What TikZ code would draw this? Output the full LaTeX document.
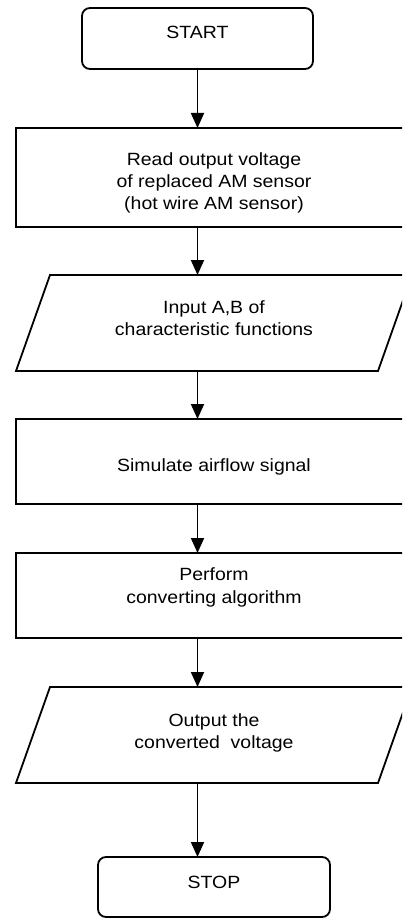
\documentclass[tikz,border=0pt]{standalone}
\usepackage{fontspec}
\setmainfont{Liberation Sans}[FakeStretch=1.1]
\usetikzlibrary{arrows.meta}

\begin{document}
\begin{tikzpicture}[x=1pt, y=-1pt, line width=1.8pt,
  every node/.style={inner sep=0pt, outer sep=0pt, align=center,
    font=\fontsize{17.7}{22.3}\selectfont},
  term/.style={draw, rounded corners=8pt, minimum height=60},
  proc/.style={draw, minimum width=396, minimum height=85},
  io/.style={minimum width=362, minimum height=96},
  arr/.style={-{Triangle[length=15pt, width=13pt]}}]
  \useasboundingbox (0,0) rectangle (402,920);
  \clip (0,0) rectangle (402,920);

  \node[term, minimum width=231, minimum height=61, text height=1pt, text depth=0pt] (start) at (197.5,38.5) {START};
  \node[proc, minimum height=99, text height=64.8pt, text depth=0pt] (read) at (214,177.5)
    {Read output voltage\\of replaced AM sensor\\(hot wire AM sensor)};
  \node[io, text height=25.2pt, text depth=0pt] (inp) at (214,323) {Input A,B of\\characteristic functions};
  \node[proc, text height=19pt, text depth=0pt] (sim) at (214,461.5) {Simulate airflow signal};
  \node[proc, text height=15pt, text depth=0pt] (conv) at (214,595.5) {Perform\\converting algorithm};
  \node[io, text height=26.6pt, text depth=0pt] (outp) at (214,735) {Output the\\converted\ \ voltage};
  \node[term, minimum width=232, text height=2pt, text depth=0pt] (stop) at (214,887) {STOP};

  % input/output boxes
  \foreach \n in {inp,outp}
    \draw ([xshift=-17pt]\n.south west) -- ([xshift=17pt]\n.north west)
      -- ([xshift=17pt]\n.north east) -- ([xshift=-17pt]\n.south east) -- cycle;

  \draw[arr] (start) -- (start |- read.north);
  \draw[arr] (read.south -| start) -- (inp.north -| start);
  \draw[arr] (inp.south -| start) -- (sim.north -| start);
  \draw[arr] (sim.south -| start) -- (conv.north -| start);
  \draw[arr] (conv.south -| start) -- (outp.north -| start);
  \draw[arr] (outp.south -| start) -- (stop.north -| start);
\end{tikzpicture}
\end{document}
